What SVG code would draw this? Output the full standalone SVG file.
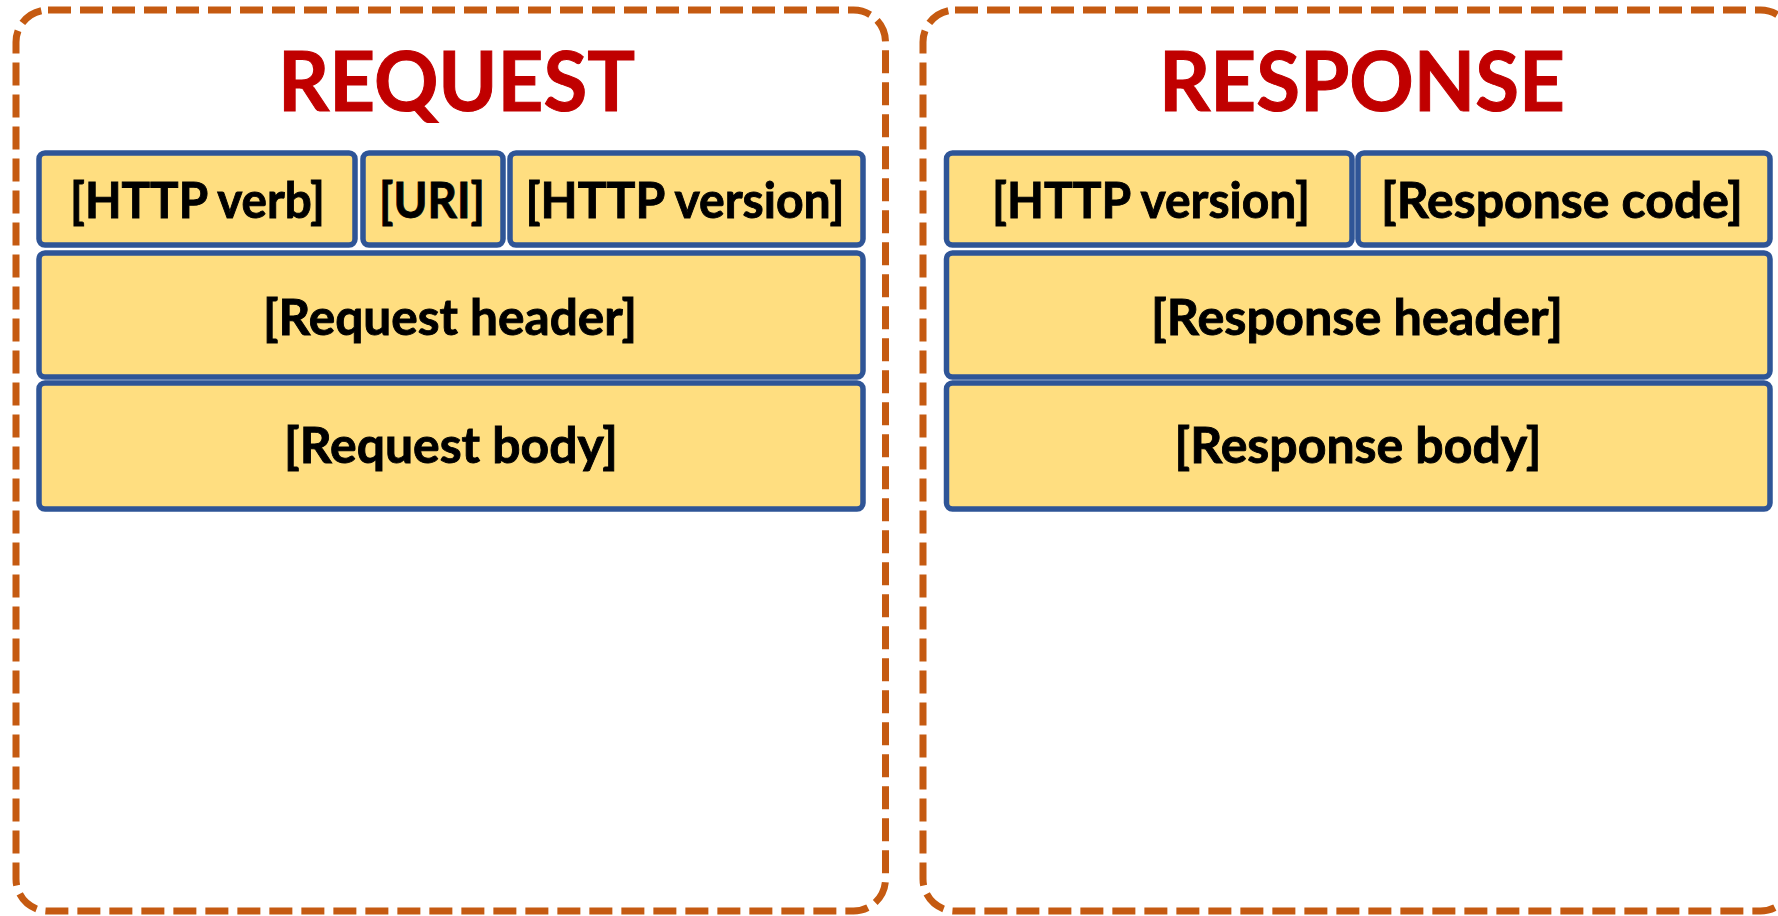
<svg xmlns="http://www.w3.org/2000/svg" width="1778" height="916" viewBox="0 0 1778 916">
<style>
.frame{fill:none;stroke:#C55A11;stroke-width:7;stroke-dasharray:23 9}
.cell{fill:#FFDE80;stroke:#2F5597;stroke-width:5.5}
.title{font-family:Lato,"Liberation Sans",sans-serif;font-weight:bold;font-size:82px;fill:#C00000;stroke:#C00000;stroke-width:1;text-anchor:middle}
.lbl{font-family:Lato,"Liberation Sans",sans-serif;font-weight:bold;font-size:49px;fill:#000;stroke:#000;stroke-width:0.9;text-anchor:middle}
</style>
<rect width="1778" height="916" fill="#fff"/>
<g id="request">
  <rect class="frame" x="16" y="10" width="869.5" height="901" rx="32"/>
  <text class="title" x="456.5" y="111" textLength="357" lengthAdjust="spacingAndGlyphs">REQUEST</text>
  <g id="req-verb"><rect class="cell" x="39" y="153" width="316" height="92" rx="6"/><text class="lbl" x="197.5" y="218" textLength="255" lengthAdjust="spacingAndGlyphs">[HTTP verb]</text></g>
  <g id="req-uri"><rect class="cell" x="363" y="153" width="140" height="92" rx="6"/><text class="lbl" x="432" y="218" textLength="106" lengthAdjust="spacingAndGlyphs">[URI]</text></g>
  <g id="req-version"><rect class="cell" x="510" y="153" width="353" height="92" rx="6"/><text class="lbl" x="685" y="218" textLength="319" lengthAdjust="spacingAndGlyphs">[HTTP version]</text></g>
  <g id="req-header"><rect class="cell" x="39" y="253" width="824" height="124" rx="6"/><text class="lbl" x="450" y="335" textLength="374" lengthAdjust="spacingAndGlyphs">[Request header]</text></g>
  <g id="req-body"><rect class="cell" x="39" y="383" width="824" height="126" rx="6"/><text class="lbl" x="451" y="463" textLength="334" lengthAdjust="spacingAndGlyphs">[Request body]</text></g>
</g>
<g id="response">
  <rect class="frame" x="923" y="10" width="869.5" height="901" rx="32"/>
  <text class="title" x="1362" y="111" textLength="406" lengthAdjust="spacingAndGlyphs">RESPONSE</text>
  <g id="res-version"><rect class="cell" x="946.5" y="153" width="405.5" height="92" rx="6"/><text class="lbl" x="1151" y="218" textLength="318" lengthAdjust="spacingAndGlyphs">[HTTP version]</text></g>
  <g id="res-code"><rect class="cell" x="1358" y="153" width="412" height="92" rx="6"/><text class="lbl" x="1562" y="218" textLength="362" lengthAdjust="spacingAndGlyphs">[Response code]</text></g>
  <g id="res-header"><rect class="cell" x="946.5" y="253" width="823.5" height="124" rx="6"/><text class="lbl" x="1357" y="335" textLength="412" lengthAdjust="spacingAndGlyphs">[Response header]</text></g>
  <g id="res-body"><rect class="cell" x="946.5" y="383" width="823.5" height="126" rx="6"/><text class="lbl" x="1358" y="463" textLength="367" lengthAdjust="spacingAndGlyphs">[Response body]</text></g>
</g>
<g id="connectors"/>
</svg>
